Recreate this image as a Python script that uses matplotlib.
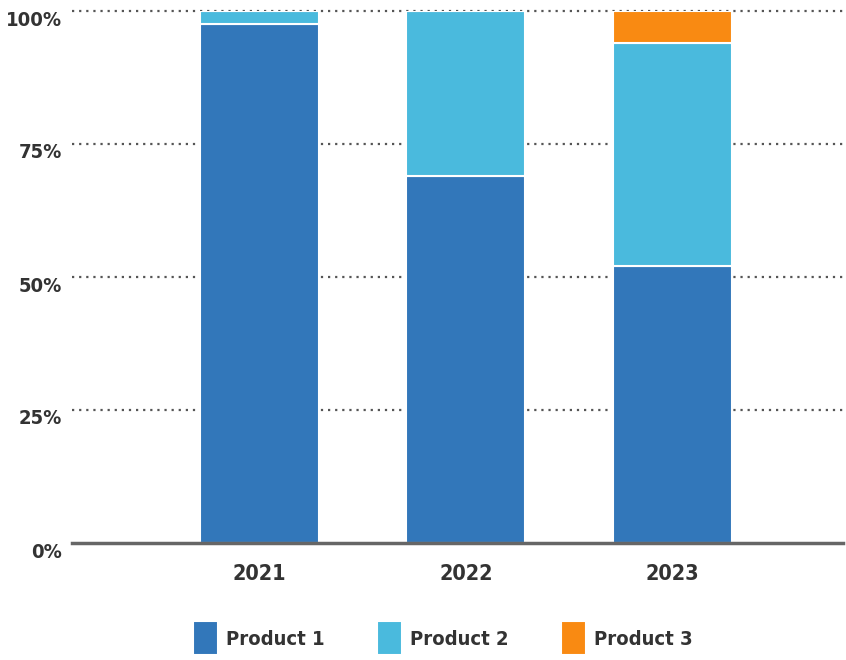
import matplotlib.pyplot as plt
import matplotlib.transforms as mtransforms
import numpy as np

years = ['2021', '2022', '2023']
product1 = [97.5, 69.0, 52.0]
product2 = [2.5, 31.0, 42.0]
product3 = [0.0, 0.0, 6.0]
series_names = ['Product 1', 'Product 2', 'Product 3']
colors = ['#3277BA', '#4ABADD', '#F98A12']
yticks = [0, 25, 50, 75, 100]
ytick_labels = ['0%', '25%', '50%', '75%', '100%']

plt.rcParams['font.family'] = ['DejaVu Sans']
plt.rcParams['font.stretch'] = 'condensed'
text_col = '#333333'

fig = plt.figure(figsize=(8.46, 6.6), dpi=100)
ax = fig.add_axes([72 / 846, 1 - 543 / 660, 771 / 846, 532 / 660])

x = np.arange(len(years))
bottom = np.zeros(len(years))
for vals, name, col in zip([product1, product2, product3], series_names, colors):
    ax.bar(x, vals, width=0.576, bottom=bottom, color=col, label=name,
           edgecolor='white', linewidth=1.5, zorder=3)
    bottom += np.array(vals)

ax.set_xlim(-0.908, 2.826)
ax.set_ylim(0, 100)

# dotted gridlines + solid baseline
for yv in yticks[1:]:
    ax.axhline(yv, color='#555555', linestyle=(0, (1, 2.2)),
               linewidth=1.6, clip_on=False, zorder=1)
ax.axhline(0, color='#666666', linewidth=2.5, zorder=4, clip_on=False)

for s in ax.spines.values():
    s.set_visible(False)

ax.set_xticks(x)
ax.set_xticklabels(years, fontsize=15.5, fontweight='bold', color=text_col)
ax.set_yticks(yticks)
ax.set_yticklabels(ytick_labels, fontsize=14.5, fontweight='bold', color=text_col)
ax.tick_params(axis='x', length=0, pad=15)
ax.tick_params(axis='y', length=0, pad=7)

# nudge y labels a bit below their gridlines
offset = mtransforms.ScaledTranslation(0, -7 / 100, fig.dpi_scale_trans)
for lbl in ax.get_yticklabels():
    lbl.set_transform(lbl.get_transform() + offset)

leg = fig.legend(loc='center', bbox_to_anchor=(443 / 846, 1 - 639 / 660), ncol=3,
                 frameon=False, handlelength=1.24, handleheight=1.0,
                 handletextpad=0.4, columnspacing=2.6, borderpad=0,
                 prop={'weight': 'bold', 'size': 14.5})
for t in leg.get_texts():
    t.set_color(text_col)
# make the legend swatches taller than wide
for p in leg.get_patches():
    h = p.get_height()
    new_h = 24.0
    p.set_y(p.get_y() + (h - new_h) / 2)
    p.set_height(new_h)

fig.savefig('out.png', dpi=100)
